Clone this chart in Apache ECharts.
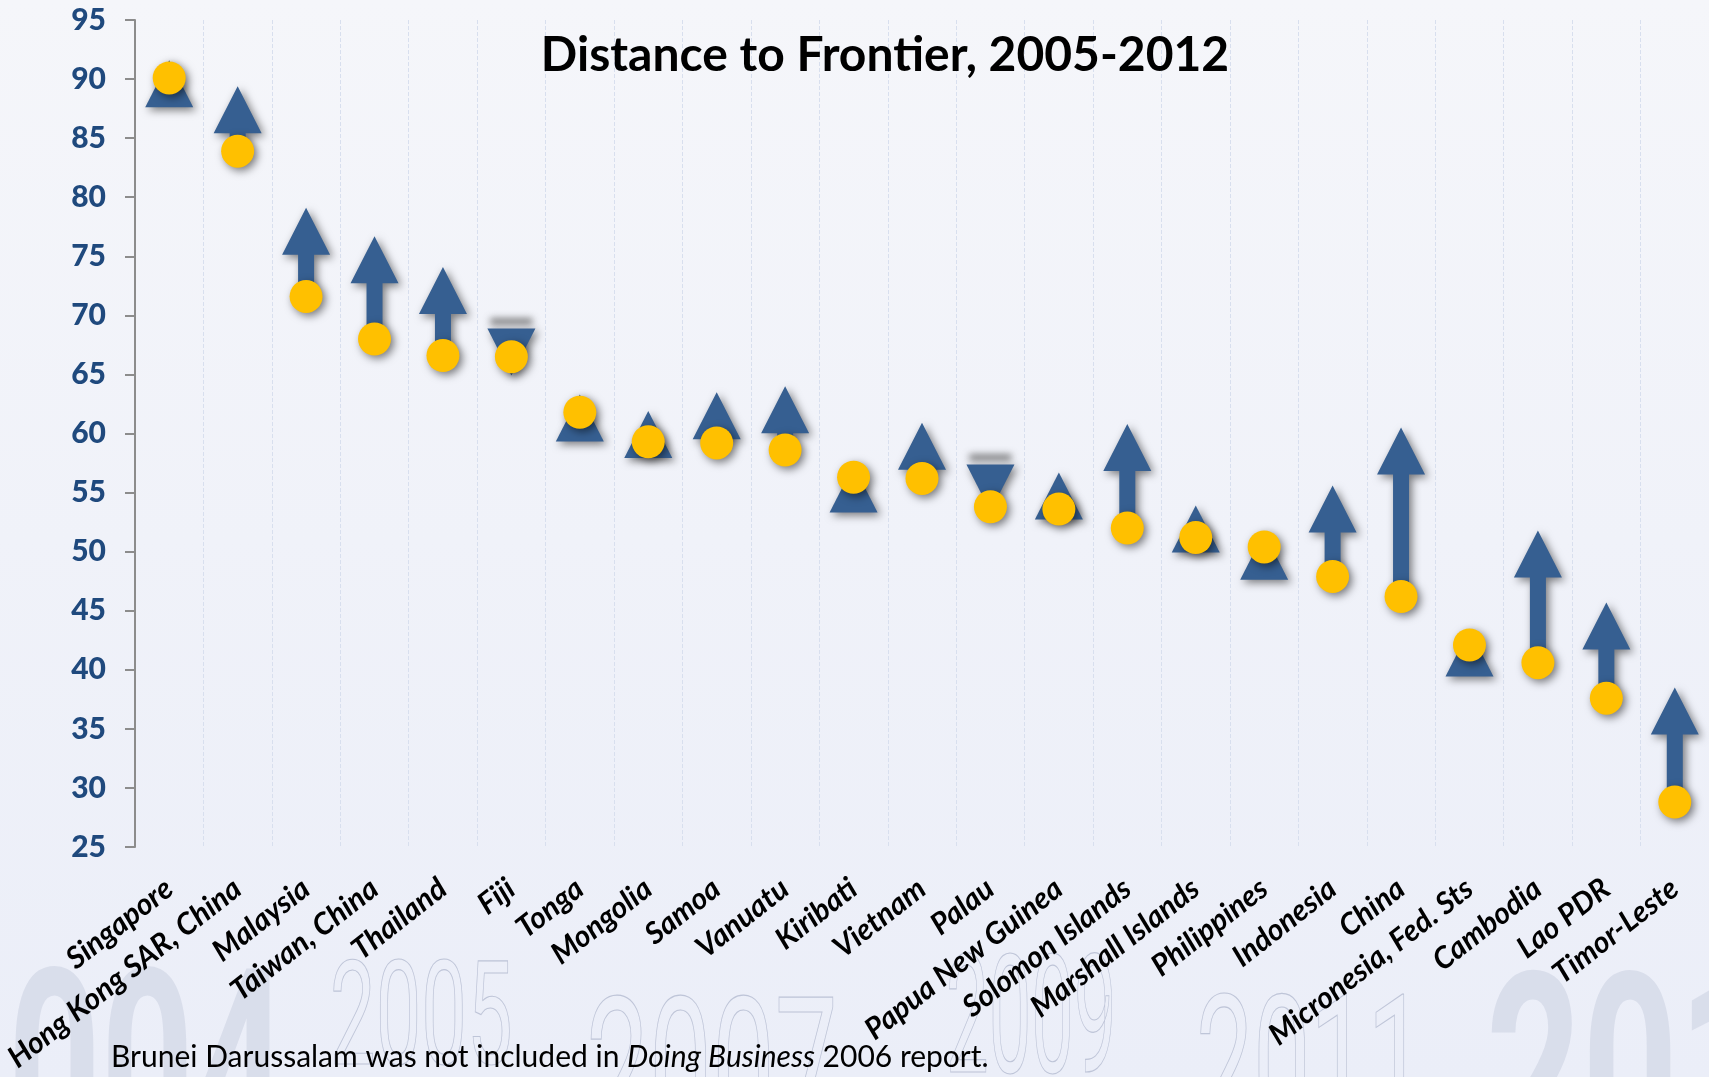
<!DOCTYPE html>
<html>
<head>
<meta charset="utf-8">
<title>Distance to Frontier, 2005-2012</title>
<script src="https://cdn.jsdelivr.net/npm/echarts@6/dist/echarts.min.js"></script>
<style>
  html, body { margin: 0; padding: 0; width: 1709px; height: 1077px; overflow: hidden; }
  #chart { width: 1709px; height: 1077px; }
</style>
</head>
<body>
<div id="chart"></div>
<script>
// Economies, ordered by their 2005 score
const countries = [
  'Singapore', 'Hong Kong SAR, China', 'Malaysia', 'Taiwan, China', 'Thailand',
  'Fiji', 'Tonga', 'Mongolia', 'Samoa', 'Vanuatu', 'Kiribati', 'Vietnam', 'Palau',
  'Papua New Guinea', 'Solomon Islands', 'Marshall Islands', 'Philippines',
  'Indonesia', 'China', 'Micronesia, Fed. Sts', 'Cambodia', 'Lao PDR', 'Timor-Leste'
];
// Distance to frontier in 2005 (circles)
const dtf2005 = [90.1, 83.9, 71.6, 68.0, 66.6, 66.5, 61.8, 59.3, 59.2, 58.6, 56.3, 56.2,
  53.8, 53.6, 52.0, 51.2, 50.4, 47.9, 46.2, 42.1, 40.6, 37.6, 28.8];
// Distance to frontier in 2012 (arrow tips)
const dtf2012 = [91.6, 89.4, 79.1, 76.7, 74.1, 64.9, 63.3, 61.9, 63.5, 64.0, 57.3, 60.9,
  53.4, 56.7, 60.8, 53.9, 51.6, 55.6, 60.5, 43.4, 51.8, 45.7, 38.5];
// Value-axis ticks
const yTicks = [25, 30, 35, 40, 45, 50, 55, 60, 65, 70, 75, 80, 85, 90, 95];
// Background year numerals
const bgYears = ['2004', '2005', '2007', '2009', '2011', '2013'];

const ARROW = '#365F91';
const GOLD = '#FFC000';
const SHADOW = {
  shadowBlur: 9, shadowOffsetX: 3, shadowOffsetY: 3, shadowColor: 'rgba(0,0,0,0.5)'
};

const arrowData = countries.map((c, i) => [i, dtf2005[i], dtf2012[i]]);

// Arrow from the 2005 value to the 2012 value; the head keeps a fixed size
function renderArrow(params, api) {
  const i = api.value(0);
  const from = api.value(1), to = api.value(2);
  const p0 = api.coord([i, from]);
  const p1 = api.coord([i, to]);
  const dir = to >= from ? 1 : -1;
  const headW = 24, headH = 47, shaftW = 8;
  const x = p1[0], tipY = p1[1];
  const baseY = tipY + dir * headH;
  const shaftLen = (p0[1] - baseY) * dir;
  let pts;
  if (shaftLen > 0) {
    pts = [[x, tipY], [x + headW, baseY], [x + shaftW, baseY], [x + shaftW, p0[1]],
      [x - shaftW, p0[1]], [x - shaftW, baseY], [x - headW, baseY]];
  } else {
    pts = [[x, tipY], [x + headW, baseY], [x - headW, baseY]];
  }
  const children = [];
  if (dir < 0) {
    // blurred grey shadow band above a falling arrow's head:
    // the bar itself sits off to the left, only its shadow lands here
    const shift = 4000;
    children.push({
      type: 'rect',
      shape: { x: x - 21 - shift, y: baseY - 10, width: 42, height: 6 },
      style: {
        fill: '#777',
        shadowBlur: 7,
        shadowOffsetX: shift,
        shadowOffsetY: 0,
        shadowColor: 'rgba(90,90,90,0.85)'
      }
    });
  }
  children.push({
    type: 'polygon',
    shape: { points: pts },
    style: Object.assign({ fill: ARROW }, SHADOW)
  });
  return { type: 'group', children };
}

// Large year numerals in the lower background
function yearText(text, x, y, size, scaleX, filled) {
  return {
    type: 'text', x: x, y: y, scaleX: scaleX, z: -10, silent: true,
    style: {
      text: text,
      font: (filled ? 'bold ' : '') + size + 'px Roboto',
      fill: filled ? 'rgba(214,218,233,0.85)' : 'none',
      stroke: filled ? null : 'rgba(185,192,212,0.9)',
      lineWidth: filled ? 0 : 1.2,
      verticalAlign: 'top'
    }
  };
}

const chart = echarts.init(document.getElementById('chart'), null, { renderer: 'canvas' });

chart.setOption({
  backgroundColor: new echarts.graphic.LinearGradient(0, 0, 0, 1, [
    { offset: 0, color: '#F5F6FA' },
    { offset: 1, color: '#EBEEF8' }
  ]),
  animation: false,
  grid: { left: 135, top: 20, width: 1577, height: 827, containLabel: false },
  graphic: [
    yearText(bgYears[0], -85, 958, 270, 0.6, true),
    yearText(bgYears[1], 330, 955, 145, 0.56, false),
    yearText(bgYears[2], 586, 990, 200, 0.56, false),
    yearText(bgYears[3], 946, 948, 165, 0.46, false),
    yearText(bgYears[4], 1196, 988, 185, 0.55, false),
    yearText(bgYears[5], 1486, 962, 270, 0.62, true),
    {
      type: 'text', x: 885, y: 56, z: 10,
      style: {
        text: 'Distance to Frontier, 2005-2012',
        font: 'bold 48px Lato', fill: '#000',
        align: 'center', verticalAlign: 'middle'
      }
    },
    {
      type: 'text', x: 111, y: 1057, z: 10,
      style: {
        text: '{n|Brunei Darussalam was not included in }{i|Doing Business}{n| 2006 report.}',
        verticalAlign: 'middle',
        rich: {
          n: { fontFamily: 'Lato', fontSize: 30, color: '#111' },
          i: { fontFamily: 'Lato', fontSize: 30, fontStyle: 'italic', color: '#111' }
        }
      }
    }
  ],
  xAxis: {
    type: 'category',
    data: countries,
    boundaryGap: true,
    axisLine: { show: false },
    axisTick: { show: false },
    splitLine: {
      show: true, interval: 0,
      lineStyle: { color: '#D8DFEE', width: 1, type: 'dashed' }
    },
    axisLabel: {
      interval: 0, rotate: 38, margin: 38,
      fontFamily: 'Lato', fontStyle: 'italic', fontWeight: 'bold',
      fontSize: 30, color: '#000'
    }
  },
  yAxis: {
    type: 'value',
    min: yTicks[0], max: yTicks[yTicks.length - 1], interval: yTicks[1] - yTicks[0],
    axisLine: { show: true, lineStyle: { color: '#8C8C8C', width: 2 } },
    axisTick: { show: true, length: 10, lineStyle: { color: '#8C8C8C', width: 2 } },
    splitLine: { show: false },
    axisLabel: {
      margin: 29, fontFamily: 'Lato', fontWeight: 900, fontSize: 30, color: '#1F497D'
    }
  },
  series: [
    {
      name: 'Change 2005-2012',
      type: 'custom',
      renderItem: renderArrow,
      data: arrowData,
      encode: { x: 0, y: [1, 2] },
      clip: false,
      z: 2
    },
    {
      name: '2005',
      type: 'scatter',
      data: dtf2005,
      symbol: 'circle',
      symbolSize: 33,
      itemStyle: Object.assign({ color: GOLD, opacity: 1 }, SHADOW),
      z: 3
    }
  ]
});
</script>
</body>
</html>
